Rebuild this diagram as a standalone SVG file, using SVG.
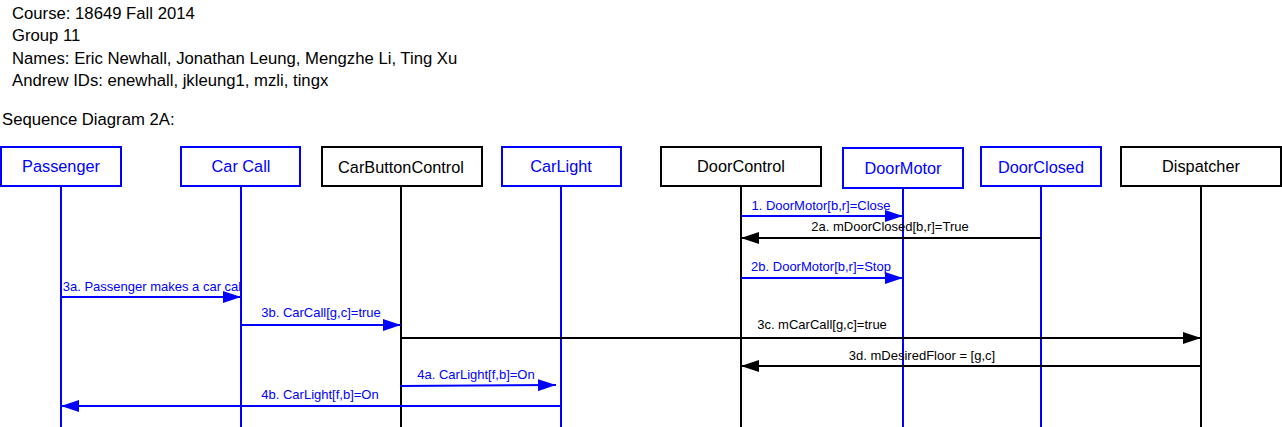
<svg xmlns="http://www.w3.org/2000/svg" width="1282" height="427" viewBox="0 0 1282 427">
<style>
.hdr{font-family:"Liberation Sans",Arial,sans-serif;font-size:16.7px;fill:#000}
.box{fill:#fff;stroke-width:2}
.blue{stroke:#0000ff}
.black{stroke:#000}
.nt{font-family:"Liberation Sans",Arial,sans-serif;font-size:16.3px;text-anchor:middle}
.ntb{fill:#0000ff}
.ntk{fill:#000}
.life{stroke-width:2;fill:none}
.msg{stroke-width:2;fill:none}
.ml{font-family:"Liberation Sans",Arial,sans-serif;font-size:13px;text-anchor:middle}
</style>
<defs>
<marker id="ab" viewBox="0 0 18 12" refX="18" refY="6" markerWidth="18" markerHeight="12" markerUnits="userSpaceOnUse" orient="auto"><path d="M0,0 L18,6 L0,12 z" fill="#0000ff"/></marker>
<marker id="ak" viewBox="0 0 18 12" refX="18" refY="6" markerWidth="18" markerHeight="12" markerUnits="userSpaceOnUse" orient="auto"><path d="M0,0 L18,6 L0,12 z" fill="#000"/></marker>
</defs>
<rect width="1282" height="427" fill="#fff"/>
<g id="header">
<text class="hdr" x="12" y="19">Course: 18649 Fall 2014</text>
<text class="hdr" x="12" y="41">Group 11</text>
<text class="hdr" x="12" y="64">Names: Eric Newhall, Jonathan Leung, Mengzhe Li, Ting Xu</text>
<text class="hdr" x="12" y="86">Andrew IDs: enewhall, jkleung1, mzli, tingx</text>
<text class="hdr" x="2" y="125">Sequence Diagram 2A:</text>
</g>
<g id="lifelines">
<line class="life blue" x1="61" y1="186" x2="61" y2="427"/>
<line class="life blue" x1="241" y1="186" x2="241" y2="427"/>
<line class="life black" x1="401" y1="186" x2="401" y2="427"/>
<line class="life blue" x1="561" y1="186" x2="561" y2="427"/>
<line class="life black" x1="741" y1="186" x2="741" y2="427"/>
<line class="life blue" x1="903" y1="188" x2="903" y2="427"/>
<line class="life blue" x1="1041" y1="187" x2="1041" y2="427"/>
<line class="life black" x1="1201" y1="186" x2="1201" y2="427"/>
</g>
<g id="passenger"><rect class="box blue" x="1" y="147" width="120" height="39"/><text class="nt ntb" x="61" y="172">Passenger</text></g>
<g id="carcall"><rect class="box blue" x="181" y="147" width="119" height="39"/><text class="nt ntb" x="241" y="172">Car Call</text></g>
<g id="carbuttoncontrol"><rect class="box black" x="322" y="147" width="160" height="39"/><text class="nt ntk" x="401" y="173">CarButtonControl</text></g>
<g id="carlight"><rect class="box blue" x="502" y="147" width="119" height="39"/><text class="nt ntb" x="561" y="172">CarLight</text></g>
<g id="doorcontrol"><rect class="box black" x="661" y="147" width="160" height="39"/><text class="nt ntk" x="741" y="172">DoorControl</text></g>
<g id="doormotor"><rect class="box blue" x="843" y="148" width="120" height="40"/><text class="nt ntb" x="903" y="174">DoorMotor</text></g>
<g id="doorclosed"><rect class="box blue" x="981" y="147" width="120" height="39"/><text class="nt ntb" x="1041" y="173">DoorClosed</text></g>
<g id="dispatcher"><rect class="box black" x="1121" y="147" width="160" height="39"/><text class="nt ntk" x="1201" y="172">Dispatcher</text></g>
<g id="connectors">
<line class="msg blue" x1="741" y1="216" x2="903" y2="216" marker-end="url(#ab)"/>
<text class="ml ntb" x="821" y="210">1. DoorMotor[b,r]=Close</text>
<line class="msg black" x1="1041" y1="238" x2="741" y2="238" marker-end="url(#ak)"/>
<text class="ml ntk" x="890" y="231">2a. mDoorClosed[b,r]=True</text>
<line class="msg blue" x1="741" y1="278" x2="903" y2="278" marker-end="url(#ab)"/>
<text class="ml ntb" x="821" y="271">2b. DoorMotor[b,r]=Stop</text>
<line class="msg blue" x1="61" y1="297" x2="241" y2="297" marker-end="url(#ab)"/>
<text class="ml ntb" x="152" y="291">3a. Passenger makes a car cal</text>
<line class="msg blue" x1="241" y1="325" x2="401" y2="325" marker-end="url(#ab)"/>
<text class="ml ntb" x="321" y="317">3b. CarCall[g,c]=true</text>
<line class="msg black" x1="401" y1="338" x2="1201" y2="338" marker-end="url(#ak)"/>
<text class="ml ntk" x="822" y="329">3c. mCarCall[g,c]=true</text>
<line class="msg black" x1="1201" y1="366" x2="741" y2="366" marker-end="url(#ak)"/>
<text class="ml ntk" x="922" y="360">3d. mDesiredFloor = [g,c]</text>
<line class="msg blue" x1="401" y1="386" x2="556" y2="385" marker-end="url(#ab)"/>
<text class="ml ntb" x="476" y="379">4a. CarLight[f,b]=On</text>
<line class="msg blue" x1="561" y1="406" x2="61" y2="406" marker-end="url(#ab)"/>
<text class="ml ntb" x="320" y="399">4b. CarLight[f,b]=On</text>
</g>
</svg>
